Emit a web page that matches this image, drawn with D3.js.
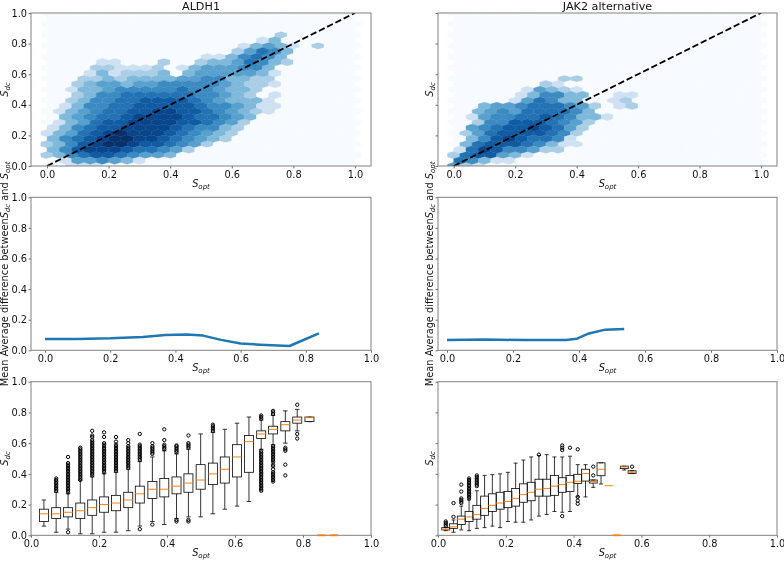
<!DOCTYPE html>
<html><head><meta charset="utf-8">
<script src="https://cdn.jsdelivr.net/npm/d3@7"></script>
<style>html,body{margin:0;padding:0;background:#fff}svg{display:block;filter:blur(0.35px)}text{font-family:"DejaVu Sans";fill:#111}</style>
</head><body><script>
const titles = ["ALDH1", "JAK2 alternative"];
const tickLabels = [0, 0.2, 0.4, 0.6, 0.8, 1.0];
const gridColumns = 25, gridRows = 14;

// hexbin shade levels: [row, firstColumn, levels]
const aldhLatticeA = [[0,2,[1,1,1]],[1,0,[2,3,5,6,7,7,6,5,4,4,3]],[2,0,[2,3,5,7,8,9,9,8,7,7,6,5,4,2]],[3,0,[1,3,4,6,7,8,9,8,8,8,7,6,5,4,3,2]],
[4,1,[1,3,4,6,7,7,8,8,8,8,7,7,6,5,4,2]],[5,1,[1,3,4,5,6,6,7,7,8,8,7,7,6,5,4,3,2,1]],[6,2,[2,3,5,5,6,6,7,7,7,7,6,5,4,3,3,3,1]],
[7,2,[1,3,3,4,5,5,5,5,5,6,5,5,4,3,3,2]],[8,3,[2,2,3,2,3,3,3,3,4,4,5,5,3,3,2,2]],[9,4,[2,2,1,1,1,2,0,1,3,4,4,4,5,5,3]],
[10,13,[1,1,3,5,6,5,3]],[11,16,[1,3,4,3,1,0,2]],[12,19,[2]]];
const aldhLatticeB = [[0,1,[1,4,4,5,4,3,1]],[1,0,[3,5,7,8,8,8,7,6,6,5,4,2]],[2,0,[3,5,6,7,8,9,9,8,8,7,6,5,4,3,2]],[3,0,[1,3,5,6,7,7,8,8,8,8,7,6,5,5,3,2]],
[4,1,[3,4,5,6,6,7,8,8,8,8,7,6,6,5,4,3]],[5,1,[1,3,5,5,6,6,7,7,7,7,7,6,5,5,4,3,1,1]],[6,2,[2,3,5,5,6,6,6,6,6,6,5,5,4,3,2,0,1]],
[7,2,[2,3,4,4,3,4,4,5,5,5,5,5,4,3,2,2,1]],[8,3,[1,3,1,2,2,2,3,0,3,4,4,4,4,4,3,1]],[9,4,[1,1,0,0,0,2,0,0,2,3,3,4,6,5,3,2]],
[10,15,[2,4,6,5,3]],[11,17,[1,3]]];
const jakLatticeA = [[0,0,[4,2,1]],[1,0,[2,6,7,7,4,3,1]],[2,1,[3,6,7,7,7,6,5,3,1,1]],[3,1,[2,4,6,7,7,7,7,6,5,2]],[4,2,[2,5,5,7,7,7,6,5,4,2]],
[5,2,[3,4,5,4,6,6,6,6,5,3]],[6,5,[1,4,6,5,3,3,0,0,1,2]],[7,6,[1,4,3,2,1]],[8,9,[2,2]]];
const jakLatticeB = [[0,0,[6,5,3,1,1]],[1,0,[1,6,8,7,5,5,4,2,2]],[2,1,[3,5,7,8,7,6,6,5,1]],[3,1,[4,5,6,7,7,8,7,6,4,2]],[4,1,[1,4,5,5,6,6,7,6,5,3,3,1]],
[5,2,[3,4,4,5,6,6,6,5,4,2,0,1,2]],[6,5,[1,3,5,5,3,3,0,0,1,1]],[7,7,[2,1]]];

// mean average difference lines
const aldhLineX = [0,0.1,0.2,0.3,0.37,0.435,0.485,0.54,0.6,0.66,0.75,0.84];
const aldhLineY = [0.074,0.074,0.078,0.087,0.1,0.104,0.096,0.068,0.044,0.037,0.028,0.111];
const jakLineX = [0,0.116,0.237,0.36,0.394,0.43,0.48,0.537];
const jakLineY = [0.067,0.07,0.067,0.067,0.076,0.11,0.135,0.14];

// ALDH1 box plot
const aldhPos = [0.038,0.074,0.109,0.145,0.18,0.215,0.25,0.286,0.32,0.357,0.392,0.428,0.463,0.499,0.535,0.57,0.606,0.641,0.677,0.712,0.748,0.783,0.819,0.855,0.89];
const aldhLo  = [0.06,0.02,0.04,0.01,0.01,0.02,0.02,0.03,0.06,0.09,0.07,0.11,0.12,0.12,0.14,0.17,0.19,0.22,0.56,0.59,0.60,0.68,0.74,0,0];
const aldhQ1  = [0.09,0.11,0.12,0.11,0.13,0.15,0.16,0.18,0.21,0.24,0.25,0.27,0.28,0.30,0.33,0.34,0.38,0.41,0.63,0.66,0.68,0.73,0.74,0,0];
const aldhMed = [0.14,0.14,0.15,0.16,0.18,0.20,0.21,0.23,0.27,0.30,0.30,0.32,0.34,0.36,0.40,0.43,0.51,0.61,0.66,0.69,0.72,0.75,0.77,0,0];
const aldhQ3  = [0.17,0.18,0.18,0.21,0.23,0.25,0.26,0.28,0.32,0.35,0.37,0.38,0.40,0.46,0.47,0.51,0.59,0.65,0.68,0.71,0.74,0.77,0.77,0,0];
const aldhHi  = [0.23,0.28,0.27,0.36,0.38,0.40,0.41,0.43,0.48,0.51,0.55,0.53,0.56,0.66,0.67,0.69,0.73,0.77,0.75,0.78,0.81,0.82,0.77,0,0];
const aldhFliers = [[],
[.29,.30,.31,.32,.33,.34,.35,.36,.37],
[.02,.28,.29,.30,.31,.32,.33,.34,.35,.36,.37,.38,.39,.40,.41,.42,.43,.44,.45,.46,.47,.51],
[.36,.37,.38,.39,.40,.41,.42,.43,.44,.45,.46,.47,.48,.49,.50,.51,.52,.53,.54,.55,.56,.57],
[.39,.40,.41,.42,.43,.44,.45,.46,.47,.48,.49,.50,.51,.52,.53,.54,.55,.56,.57,.58,.59,.60,.61,.62,.64,.65,.68],
[.41,.42,.43,.44,.45,.46,.47,.48,.49,.50,.51,.52,.53,.54,.55,.56,.57,.58,.59,.60,.64,.67],
[.42,.43,.44,.45,.46,.47,.48,.49,.50,.51,.52,.53,.54,.55,.56,.57,.58,.59,.61,.64],
[.44,.45,.46,.47,.48,.49,.50,.51,.52,.53,.54,.55,.56,.57,.58,.60,.62],
[.04,.49,.50,.51,.52,.53,.54,.55,.56,.57,.58,.59,.66],
[.07,.53,.54,.55,.56,.57,.58,.60],
[.56,.57,.58,.59,.62,.69],
[.09,.10,.54,.55,.56,.57,.58,.585],
[.09,.10,.57,.58,.59,.60,.65],
[],
[.68,.69,.70,.71,.72],
[],[],[],
[.29,.30,.31,.32,.33,.34,.35,.36,.37,.38,.39,.40,.41,.42,.43,.44,.45,.46,.47,.48,.49,.50,.51,.52,.53,.54,.55,.76,.77,.78],
[.35,.36,.37,.38,.39,.40,.41,.43,.45,.46,.48,.49,.50,.51,.52,.53,.54,.55,.56,.57,.58,.79,.80,.81],
[.39,.46,.55,.56,.57],
[.63,.66,.85],
[],[],[]];

// JAK2 alternative box plot
const jakPos = [0.0229,0.0458,0.0687,0.0916,0.1145,0.1374,0.1603,0.1832,0.2061,0.229,0.2519,0.2748,0.2977,0.3206,0.3435,0.3664,0.3893,0.4122,0.4351,0.458,0.4809,0.5038,0.527,0.5496,0.5725];
const jakLo  = [0.03,0.02,0.035,0.03,0.045,0.05,0.06,0.05,0.09,0.085,0.085,0.10,0.125,0.135,0.155,0.15,0.155,0.25,0.25,0.312,0.334,0.323,0,0.425,0.403];
const jakQ1  = [0.035,0.045,0.07,0.09,0.105,0.13,0.155,0.17,0.18,0.19,0.215,0.225,0.255,0.255,0.26,0.28,0.285,0.338,0.353,0.34,0.388,0.323,0,0.434,0.403];
const jakMed = [0.04,0.055,0.105,0.12,0.135,0.175,0.195,0.21,0.22,0.24,0.265,0.28,0.30,0.305,0.32,0.33,0.345,0.352,0.403,0.35,0.43,0.323,0,0.445,0.41];
const jakQ3  = [0.05,0.075,0.125,0.155,0.195,0.255,0.27,0.28,0.285,0.305,0.335,0.345,0.365,0.365,0.39,0.375,0.39,0.397,0.43,0.36,0.472,0.323,0,0.45,0.42];
const jakHi  = [0.05,0.10,0.19,0.23,0.29,0.39,0.395,0.40,0.41,0.47,0.49,0.51,0.52,0.525,0.51,0.51,0.515,0.46,0.46,0.36,0.472,0.323,0,0.45,0.42];
const jakFliers = [[.06,.07,.08,.09],[.12,.21],[.21,.22,.23,.24,.285,.33],
[.24,.25,.26,.27,.28,.29,.30,.31,.32,.33,.34,.35,.36,.37],[.32,.33,.34,.35,.36,.37,.38,.39],[],[],[],[],[],[],[],[.525],[],[],
[.125,.555,.57,.585],[.57],[.205,.226,.25,.56],[],[.39,.447],[],[],[],[],[.447]];

const svg = d3.select("body").append("svg").attr("width",784).attr("height",561);
const blues = d3.scaleSequentialPow(d3.interpolateBlues).domain([0,9]).exponent(0.72);
let uid = 0;

function mathLabel(sel, sub){
  sel.append("tspan").attr("font-style","italic").text("S");
  sel.append("tspan").attr("font-style","italic").attr("font-size","7px").attr("dy",2).text(sub);
}
function frame(L,T,R,B,x,y,showY,ylab,ylabX){
  const g = svg.append("g");
  g.append("g").attr("transform",`translate(0,${B})`)
    .call(d3.axisBottom(x).tickValues(tickLabels).tickFormat(d3.format(".1f")).tickSize(2.4).tickPadding(2.6))
    .call(a=>{a.select(".domain").remove();a.selectAll("text").attr("font-size","9.8px").attr("font-family","DejaVu Sans").style("fill","#111");a.selectAll("line").attr("stroke","#444").attr("stroke-width",.8);});
  g.append("g").attr("transform",`translate(${L},0)`)
    .call(d3.axisLeft(y).tickValues(tickLabels).tickFormat(showY?d3.format(".1f"):"").tickSize(2.4).tickPadding(1.6))
    .call(a=>{a.select(".domain").remove();a.selectAll("text").attr("font-size","9.8px").attr("font-family","DejaVu Sans").style("fill","#111");a.selectAll("line").attr("stroke","#444").attr("stroke-width",.8);});
  g.append("rect").attr("x",L).attr("y",T).attr("width",R-L).attr("height",B-T).attr("fill","none").attr("stroke","#808080").attr("stroke-width",1);
  const xl = g.append("text").attr("x",(L+R)/2).attr("y",B+21).attr("text-anchor","middle").attr("font-size","9.8px");
  mathLabel(xl,"opt");
  const yl = g.append("text").attr("transform",`translate(${ylabX},${(T+B)/2}) rotate(-90)`).attr("text-anchor","middle").attr("font-size","9.8px");
  ylab(yl);
}
function sdc(t){mathLabel(t,"dc");}
function meanLab(t){
  t.append("tspan").text("Mean Average difference between");
  mathLabel(t,"dc");
  t.append("tspan").attr("dy",-2).text(" and ");
  mathLabel(t,"opt");
}
function hexPanel(L,T,R,B,x0,x1,latA,latB,showY,ylabX,title){
  const x = d3.scaleLinear([0,1],[x0,x1]), y = d3.scaleLinear([0,1],[B,T]);
  const id = "c"+(uid++);
  svg.append("clipPath").attr("id",id).append("rect").attr("x",L).attr("y",T).attr("width",R-L).attr("height",B-T);
  const g = svg.append("g").attr("clip-path",`url(#${id})`);
  const grid = new Map();
  latA.forEach(([j,s,l])=>l.forEach((v,k)=>grid.set(`a${s+k}_${j}`,v)));
  latB.forEach(([j,s,l])=>l.forEach((v,k)=>grid.set(`b${s+k}_${j}`,v)));
  const cells = [];
  for(let i=0;i<=gridColumns;i++)for(let j=0;j<=gridRows;j++)cells.push({cx:i/gridColumns,cy:j/gridRows,v:grid.get(`a${i}_${j}`)||0});
  for(let i=0;i<gridColumns;i++)for(let j=0;j<gridRows;j++)cells.push({cx:(i+.5)/gridColumns,cy:(j+.5)/gridRows,v:grid.get(`b${i}_${j}`)||0});
  const sx = 1/gridColumns, sy = 1/gridRows/3;
  const shape = [[.5,-.5],[.5,.5],[0,1],[-.5,.5],[-.5,-.5],[0,-1]];
  g.selectAll("path").data(cells).join("path")
    .attr("d",d=>d3.line()(shape.map(([a,b])=>[x(d.cx+a*sx),y(d.cy+b*sy)]))+"Z")
    .attr("fill",d=>blues(d.v)).attr("stroke",d=>blues(d.v)).attr("stroke-width",.4);
  g.append("line").attr("x1",x(0)).attr("y1",y(0)).attr("x2",x(1)).attr("y2",y(1))
    .attr("stroke","#000").attr("stroke-width",1.8).attr("stroke-dasharray","6.4 2.8");
  frame(L,T,R,B,x,y,showY,sdc,ylabX);
  svg.append("text").attr("x",(L+R)/2).attr("y",T-3.5).attr("text-anchor","middle").attr("font-size","11.2px").text(title);
}
function linePanel(L,T,R,B,x0,x1,xs,ys,showY,ylabX){
  const x = d3.scaleLinear([0,1],[x0,x1]), y = d3.scaleLinear([0,1],[B,T]);
  svg.append("path").attr("d",d3.line().x(d=>x(d[0])).y(d=>y(d[1])).curve(d3.curveLinear)(d3.zip(xs,ys)))
    .attr("fill","none").attr("stroke","#1f77b4").attr("stroke-width",2.5).attr("stroke-linejoin","round");
  frame(L,T,R,B,x,y,showY,meanLab,ylabX);
}
function boxPanel(L,T,R,B,pos,lo,q1,med,q3,hi,fl,w,showY,ylabX){
  const x = d3.scaleLinear([0,1],[L,R]), y = d3.scaleLinear([0,1],[B,T]);
  frame(L,T,R,B,x,y,showY,sdc,ylabX);
  const g = svg.append("g");
  pos.forEach((p,k)=>{
    const b = g.append("g").attr("stroke","#111").attr("stroke-width",.85).attr("fill","none");
    const flat = q1[k]===q3[k];
    if(!flat){
      b.append("line").attr("x1",x(p)).attr("x2",x(p)).attr("y1",y(lo[k])).attr("y2",y(q1[k]));
      b.append("line").attr("x1",x(p)).attr("x2",x(p)).attr("y1",y(q3[k])).attr("y2",y(hi[k]));
      [lo[k],hi[k]].forEach(v=>b.append("line").attr("x1",x(p-w/4)).attr("x2",x(p+w/4)).attr("y1",y(v)).attr("y2",y(v)));
      b.append("rect").attr("x",x(p-w/2)).attr("width",x(w)-x(0)).attr("y",y(q3[k])).attr("height",y(q1[k])-y(q3[k]));
    }
    b.selectAll("circle").data(fl[k]).join("circle").attr("cx",x(p)).attr("cy",d=>y(d)).attr("r",1.65).attr("stroke","#000").attr("stroke-width",1);
    b.append("line").attr("x1",x(p-w/2)).attr("x2",x(p+w/2)).attr("y1",y(med[k])).attr("y2",y(med[k])).attr("stroke","#ff7f0e").attr("stroke-width",med[k]===0?1.8:1);
  });
}
hexPanel(31,13,371,166,47,355,aldhLatticeA,aldhLatticeB,true,8,titles[0]);
hexPanel(438,13,777,166,453.7,761,jakLatticeA,jakLatticeB,false,433,titles[1]);
linePanel(31,197.3,371,350.3,45,371,aldhLineX,aldhLineY,true,8);
linePanel(438,197.3,777,350.3,447,777,jakLineX,jakLineY,false,433);
boxPanel(31,381.7,371,535.3,aldhPos,aldhLo,aldhQ1,aldhMed,aldhQ3,aldhHi,aldhFliers,0.0265,true,8);
boxPanel(438,381.7,777,535.3,jakPos,jakLo,jakQ1,jakMed,jakQ3,jakHi,jakFliers,0.0235,false,433);
</script></body></html>
